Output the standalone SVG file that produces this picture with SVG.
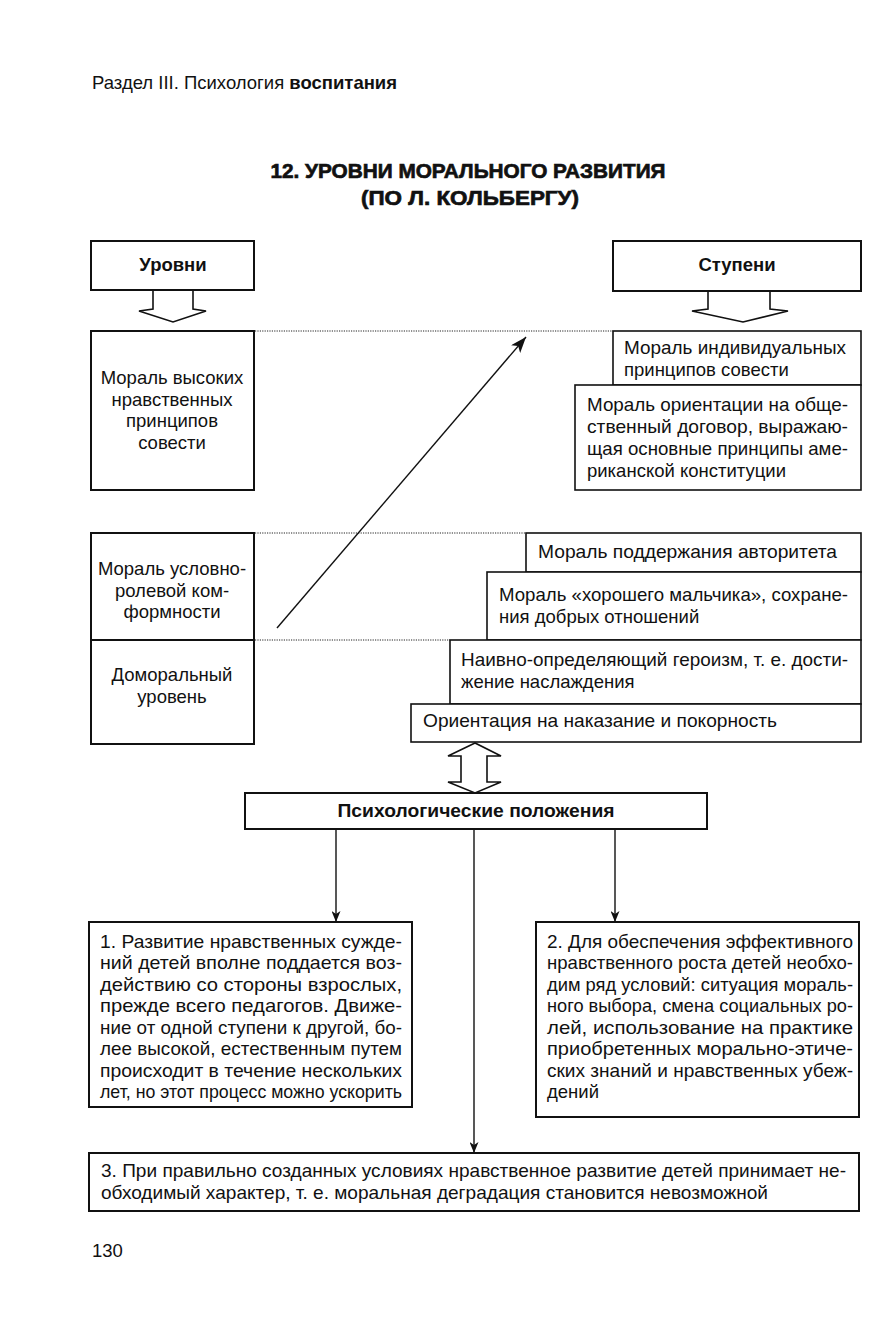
<svg xmlns="http://www.w3.org/2000/svg" width="882" height="1330" viewBox="0 0 882 1330">
<style>
text{font-family:"Liberation Sans",Arial,sans-serif;fill:#111}
.t{font-size:18.5px}
.b{font-weight:bold}
.box{fill:#fff;stroke:#111;stroke-width:1.6}
.thick{stroke-width:2}
.dot{fill:none;stroke:#222;stroke-width:1;stroke-dasharray:1.2 1.2}
.ln{fill:none;stroke:#111;stroke-width:1.4}
.blk{fill:#fff;stroke:#111;stroke-width:1.6;stroke-linejoin:miter}
.c{text-anchor:middle}
.ttl{font-size:21px;font-weight:bold;stroke:#111;stroke-width:0.7;text-anchor:middle}
</style>
<defs>
<marker id="ah" markerWidth="11" markerHeight="9" refX="11" refY="4.5" orient="auto" markerUnits="userSpaceOnUse" viewBox="0 0 11 9">
<path d="M0,0 L11,4.5 L0,9 L3,4.5 Z" fill="#111"/>
</marker>
<marker id="ahd" markerWidth="16" markerHeight="12" refX="16" refY="6" orient="auto" markerUnits="userSpaceOnUse" viewBox="0 0 16 12">
<path d="M0,0 L16,6 L0,12 L4,6 Z" fill="#111"/>
</marker>
</defs>

<g id="header">
<text x="92" y="89" font-size="18.5">Раздел III. Психология <tspan font-weight="bold">воспитания</tspan></text>
</g>
<g id="title">
<text x="468" y="178" class="ttl" textLength="395" lengthAdjust="spacingAndGlyphs">12. УРОВНИ МОРАЛЬНОГО РАЗВИТИЯ</text>
<text x="470" y="205" class="ttl" textLength="218" lengthAdjust="spacingAndGlyphs">(ПО Л. КОЛЬБЕРГУ)</text>
</g>

<g id="connectors">
<line class="dot" x1="255" y1="331" x2="613" y2="331"/>
<line class="dot" x1="255" y1="533" x2="526" y2="533"/>
<line class="dot" x1="255" y1="640" x2="450" y2="640"/>
<line class="ln" x1="277" y1="628" x2="526" y2="337" marker-end="url(#ahd)"/>
<line class="ln" x1="336" y1="829" x2="336" y2="922" marker-end="url(#ah)"/>
<line class="ln" x1="474" y1="829" x2="474" y2="1153" marker-end="url(#ah)"/>
<line class="ln" x1="615" y1="829" x2="615" y2="922" marker-end="url(#ah)"/>
<path class="blk" d="M475,743 L448,756 L461,756 L461,782 L448,782 L475,793 L501,782 L487,782 L487,756 L501,756 Z"/>
</g>

<g id="levels-head">
<path class="blk" d="M153,290 L153,309 L139,311 L173,322 L206,311 L193,309 L193,290"/>
<rect class="box thick" x="91" y="241" width="163" height="49"/>
<text x="173" y="271" class="t b c">Уровни</text>
</g>
<g id="stages-head">
<path class="blk" d="M708,291 L708,309 L692,311 L743,322 L788,311 L770,309 L770,291"/>
<rect class="box thick" x="613" y="241" width="248" height="50"/>
<text x="737" y="271" class="t b c">Ступени</text>
</g>

<g id="level-high">
<rect class="box thick" x="91" y="331" width="163" height="159"/>
<text class="t c" x="172" y="384">Мораль высоких</text>
<text class="t c" x="172" y="406">нравственных</text>
<text class="t c" x="172" y="427">принципов</text>
<text class="t c" x="172" y="449">совести</text>
</g>
<g id="level-conv">
<rect class="box thick" x="91" y="533" width="163" height="107"/>
<text class="t c" x="172" y="575">Мораль условно-</text>
<text class="t c" x="172" y="597">ролевой ком-</text>
<text class="t c" x="172" y="618">формности</text>
</g>
<g id="level-pre">
<rect class="box thick" x="91" y="640" width="163" height="104"/>
<text class="t c" x="172" y="681">Доморальный</text>
<text class="t c" x="172" y="703">уровень</text>
</g>

<g id="stage6">
<rect class="box" x="613" y="331" width="248" height="54"/>
<text class="t" x="624" y="354" textLength="222" lengthAdjust="spacingAndGlyphs">Мораль индивидуальных</text>
<text class="t" x="624" y="376">принципов совести</text>
</g>
<g id="stage5">
<rect class="box" x="575" y="385" width="286" height="105"/>
<text class="t" x="587" y="411" textLength="261" lengthAdjust="spacingAndGlyphs">Мораль ориентации на обще-</text>
<text class="t" x="587" y="433" textLength="261" lengthAdjust="spacingAndGlyphs">ственный договор, выражаю-</text>
<text class="t" x="587" y="455" textLength="261" lengthAdjust="spacingAndGlyphs">щая основные принципы аме-</text>
<text class="t" x="587" y="477">риканской конституции</text>
</g>
<g id="stage4">
<rect class="box" x="526" y="533" width="335" height="39"/>
<text class="t" x="538" y="558" textLength="299" lengthAdjust="spacingAndGlyphs">Мораль поддержания авторитета</text>
</g>
<g id="stage3">
<rect class="box" x="487" y="572" width="374" height="68"/>
<text class="t" x="499" y="601" textLength="349" lengthAdjust="spacingAndGlyphs">Мораль «хорошего мальчика», сохране-</text>
<text class="t" x="499" y="623">ния добрых отношений</text>
</g>
<g id="stage2">
<rect class="box" x="450" y="640" width="411" height="64"/>
<text class="t" x="461" y="666" textLength="387" lengthAdjust="spacingAndGlyphs">Наивно-определяющий героизм, т. е. дости-</text>
<text class="t" x="461" y="688">жение наслаждения</text>
</g>
<g id="stage1">
<rect class="box" x="411" y="704" width="450" height="38"/>
<text class="t" x="423" y="727" textLength="354" lengthAdjust="spacingAndGlyphs">Ориентация на наказание и покорность</text>
</g>

<g id="psych">
<rect class="box thick" x="245" y="793" width="462" height="36"/>
<text class="t b c" x="476" y="817" textLength="277" lengthAdjust="spacingAndGlyphs">Психологические положения</text>
</g>

<g id="p1">
<rect class="box thick" x="89" y="922" width="323" height="185"/>
<text class="t" x="100" y="948" textLength="302" lengthAdjust="spacingAndGlyphs">1. Развитие нравственных сужде-</text>
<text class="t" x="100" y="969" textLength="302" lengthAdjust="spacingAndGlyphs">ний детей вполне поддается воз-</text>
<text class="t" x="100" y="991" textLength="302" lengthAdjust="spacingAndGlyphs">действию со стороны взрослых,</text>
<text class="t" x="100" y="1012" textLength="302" lengthAdjust="spacingAndGlyphs">прежде всего педагогов. Движе-</text>
<text class="t" x="100" y="1034" textLength="302" lengthAdjust="spacingAndGlyphs">ние от одной ступени к другой, бо-</text>
<text class="t" x="100" y="1055" textLength="302" lengthAdjust="spacingAndGlyphs">лее высокой, естественным путем</text>
<text class="t" x="100" y="1077" textLength="302" lengthAdjust="spacingAndGlyphs">происходит в течение нескольких</text>
<text class="t" x="100" y="1098" textLength="302" lengthAdjust="spacingAndGlyphs">лет, но этот процесс можно ускорить</text>
</g>
<g id="p2">
<rect class="box thick" x="536" y="922" width="323" height="195"/>
<text class="t" x="547" y="948" textLength="306" lengthAdjust="spacingAndGlyphs">2. Для обеспечения эффективного</text>
<text class="t" x="547" y="969" textLength="306" lengthAdjust="spacingAndGlyphs">нравственного роста детей необхо-</text>
<text class="t" x="547" y="991" textLength="306" lengthAdjust="spacingAndGlyphs">дим ряд условий: ситуация мораль-</text>
<text class="t" x="547" y="1012" textLength="306" lengthAdjust="spacingAndGlyphs">ного выбора, смена социальных ро-</text>
<text class="t" x="547" y="1034" textLength="306" lengthAdjust="spacingAndGlyphs">лей, использование на практике</text>
<text class="t" x="547" y="1055" textLength="306" lengthAdjust="spacingAndGlyphs">приобретенных морально-этиче-</text>
<text class="t" x="547" y="1077" textLength="306" lengthAdjust="spacingAndGlyphs">ских знаний и нравственных убеж-</text>
<text class="t" x="547" y="1098">дений</text>
</g>
<g id="p3">
<rect class="box thick" x="89" y="1153" width="770" height="58"/>
<text class="t" x="101" y="1177" textLength="745" lengthAdjust="spacingAndGlyphs">3. При правильно созданных условиях нравственное развитие детей принимает не-</text>
<text class="t" x="101" y="1199" textLength="667" lengthAdjust="spacingAndGlyphs">обходимый характер, т. е. моральная деградация становится невозможной</text>
</g>

<g id="footer">
<text x="92" y="1257" font-size="18.5">130</text>
</g>
</svg>
